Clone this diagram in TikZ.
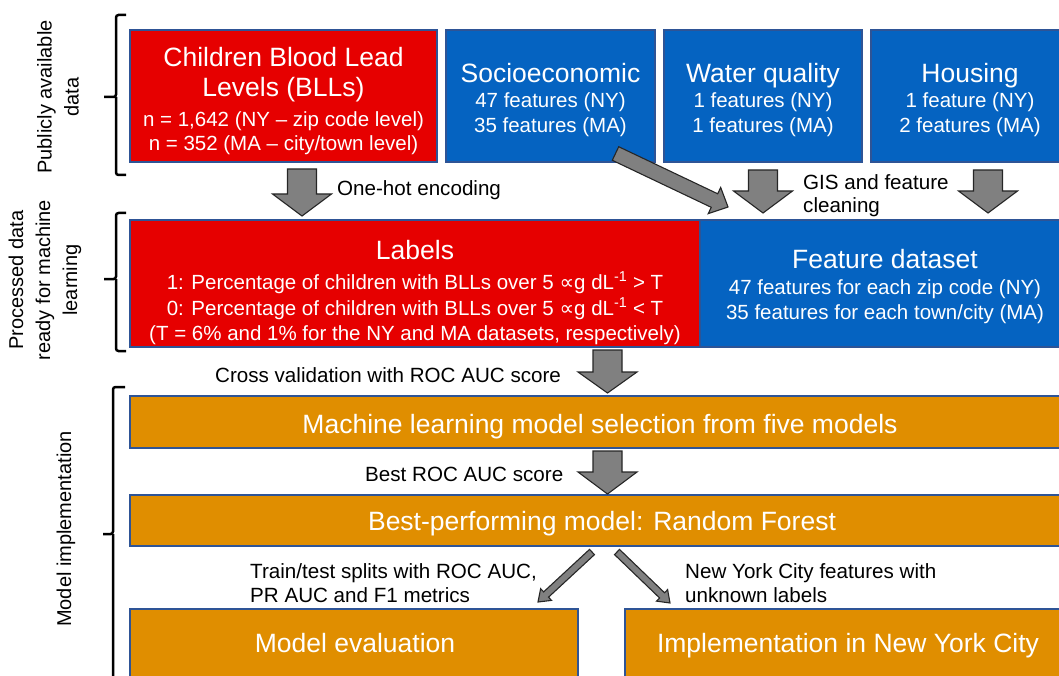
\documentclass[tikz,border=0pt]{standalone}
\usepackage{fontspec}
\setmainfont{Liberation Sans}
\newfontfamily\symfont{DejaVu Sans}
\usetikzlibrary{calc}

\definecolor{bllred}{RGB}{230,0,0}
\definecolor{featblue}{RGB}{5,99,193}
\definecolor{mlorange}{RGB}{224,142,0}
\definecolor{edgeblue}{RGB}{46,84,150}
\definecolor{arrgray}{RGB}{128,128,128}

% block arrow: start, end, shaft half width, head half width, head length
\newcommand\blockarrow[5]{%
  \coordinate (bahead) at ($(#2)!#5!(#1)$);
  \draw[blk] ($(#1)!#3!90:(#2)$) -- ($(bahead)!#3!90:(#2)$) -- ($(bahead)!#4!90:(#2)$)
    -- (#2) -- ($(bahead)!#4!-90:(#2)$) -- ($(bahead)!#3!-90:(#2)$) -- ($(#1)!#3!-90:(#2)$) -- cycle;}

\begin{document}
\begin{tikzpicture}[x=1pt,y=-1pt,
  panel/.style={draw=edgeblue, line width=1.2pt, anchor=north west, inner sep=0pt, outer sep=0pt},
  ttl/.style={text=white, font=\fontsize{26.5}{30}\selectfont, anchor=base, inner sep=0pt},
  sub/.style={text=white, font=\fontsize{20.5}{24}\selectfont, anchor=base, inner sep=0pt},
  note/.style={text=black, font=\fontsize{20.6}{24}\selectfont, anchor=base west, inner sep=0pt},
  side/.style={font=\fontsize{20}{27}\selectfont, align=center, rotate=90, inner sep=0pt},
  brace/.style={line width=2.5pt, rounded corners=2.5pt},
  blk/.style={fill=arrgray, draw=black!85, line width=1.1pt, line join=miter},
]
\useasboundingbox (0,0) rectangle (1059,676);

% ---- publicly available data ----
\node[panel, fill=bllred, minimum width=307, minimum height=132] (bll) at (130,30) {};
\node[panel, fill=featblue, minimum width=209, minimum height=132] (socio) at (446,30) {};
\node[panel, fill=featblue, minimum width=198, minimum height=132] (water) at (664,30) {};
\node[panel, fill=featblue, minimum width=200, minimum height=132] (house) at (871,30) {};

\node[ttl] (bllA) at (283.5,67) {Children Blood Lead};
\node[ttl] (bllB) at (283.5,97) {Levels (BLLs)};
\node[sub] (bllC) at (283.5,127) {n = 1,642 (NY – zip code level)};
\node[sub] (bllD) at (283.5,151) {n = 352 (MA – city/town level)};

\node[ttl] (socA) at (550.5,83) {Socioeconomic};
\node[sub] (socB) at (550.5,108) {47 features (NY)};
\node[sub] (socC) at (550.5,133) {35 features (MA)};

\node[ttl] (watA) at (763,83) {Water quality};
\node[sub] (watB) at (763,108) {1 features (NY)};
\node[sub] (watC) at (763,133) {1 features (MA)};

\node[ttl] (houA) at (970,83) {Housing};
\node[sub] (houB) at (970,108) {1 feature (NY)};
\node[sub] (houC) at (970,133) {2 features (MA)};

% ---- processed data ----
\node[panel, fill=bllred, minimum width=570, minimum height=127] (lab) at (130,220) {};
\node[panel, fill=featblue, minimum width=370, minimum height=127] (feat) at (700,220) {};

\node[ttl] (labA) at (415,259) {Labels};
\node[sub] (labB) at (415,289) {1: Percentage of children with BLLs over 5 {\symfont ∝}g dL\textsuperscript{-1} > T};
\node[sub] (labC) at (415,315) {0: Percentage of children with BLLs over 5 {\symfont ∝}g dL\textsuperscript{-1} < T};
\node[sub] (labD) at (415,340) {(T = 6\% and 1\% for the NY and MA datasets, respectively)};

\node[ttl] (featA) at (885,269) {Feature dataset};
\node[sub] (featB) at (885,294) {47 features for each zip code (NY)};
\node[sub] (featC) at (885,319) {35 features for each town/city (MA)};

% ---- model implementation ----
\node[panel, fill=mlorange, minimum width=940, minimum height=52] (sel) at (130,396) {};
\node[panel, fill=mlorange, minimum width=940, minimum height=51] (best) at (130,495) {};
\node[panel, fill=mlorange, minimum width=448, minimum height=80] (eval) at (130,609) {};
\node[panel, fill=mlorange, minimum width=445, minimum height=80] (impl) at (625,609) {};

\node[ttl] (selT) at (600,433) {Machine learning model selection from five models};
\node[ttl] (bestT) at (602,530) {Best-performing model: Random Forest};
\node[ttl] (evalT) at (355,652) {Model evaluation};
\node[ttl] (implT) at (848,652) {Implementation in New York City};

% ---- block arrows ----
\coordinate (a1s) at (302,169);   \coordinate (a1e) at (302,216);
\coordinate (a2s) at (763,170);   \coordinate (a2e) at (763,213);
\coordinate (a3s) at (988,170);   \coordinate (a3e) at (988,213);
\coordinate (a4s) at (615.5,153.5); \coordinate (a4e) at (728,207);
\coordinate (a5s) at (607.5,350); \coordinate (a5e) at (607.5,393);
\coordinate (a6s) at (607.5,451); \coordinate (a6e) at (607.5,494);
\coordinate (a7s) at (592,552);   \coordinate (a7e) at (538,602);
\coordinate (a8s) at (617,552);   \coordinate (a8e) at (670,603);

\blockarrow{a1s}{a1e}{14.5pt}{29.5pt}{22pt}
\blockarrow{a2s}{a2e}{14.5pt}{29.5pt}{22pt}
\blockarrow{a3s}{a3e}{14.5pt}{29.5pt}{22pt}
\blockarrow{a4s}{a4e}{7.5pt}{14.5pt}{15pt}
\blockarrow{a5s}{a5e}{14.5pt}{29.5pt}{21pt}
\blockarrow{a6s}{a6e}{14.5pt}{29.5pt}{22pt}
\blockarrow{a7s}{a7e}{3.6pt}{8pt}{11pt}
\blockarrow{a8s}{a8e}{3.6pt}{8pt}{11pt}

% ---- arrow labels ----
\node[note] (n1) at (337,196) {One-hot encoding};
\node[note] (n2) at (803,190) {GIS and feature};
\node[note] (n3) at (803,213) {cleaning};
\node[note] (n4) at (215,382) {Cross validation with ROC AUC score};
\node[note] (n5) at (365,481) {Best ROC AUC score};
\node[note] (n6) at (250,578) {Train/test splits with ROC AUC,};
\node[note] (n7) at (250,602) {PR AUC and F1 metrics};
\node[note] (n8) at (685,578) {New York City features with};
\node[note] (n9) at (685,602) {unknown labels};

% ---- stage braces and captions ----
\draw[brace] (126,15) -| (116,97) -- (104,97) (116,97) |- (126,175);
\draw[brace] (126,213) -| (116,279) -- (104,279) (116,279) |- (126,351);
\draw[brace] (125,387) -| (113,534) -- (103,534) (113,534) -- (113,700);

\node[side] (s1) at (58,97) {Publicly available\\data};
\node[side] (s2) at (45,280) {Processed data\\ready for machine\\learning};
\node[side] (s3) at (66,529) {Model implementation};
\end{tikzpicture}
\end{document}
